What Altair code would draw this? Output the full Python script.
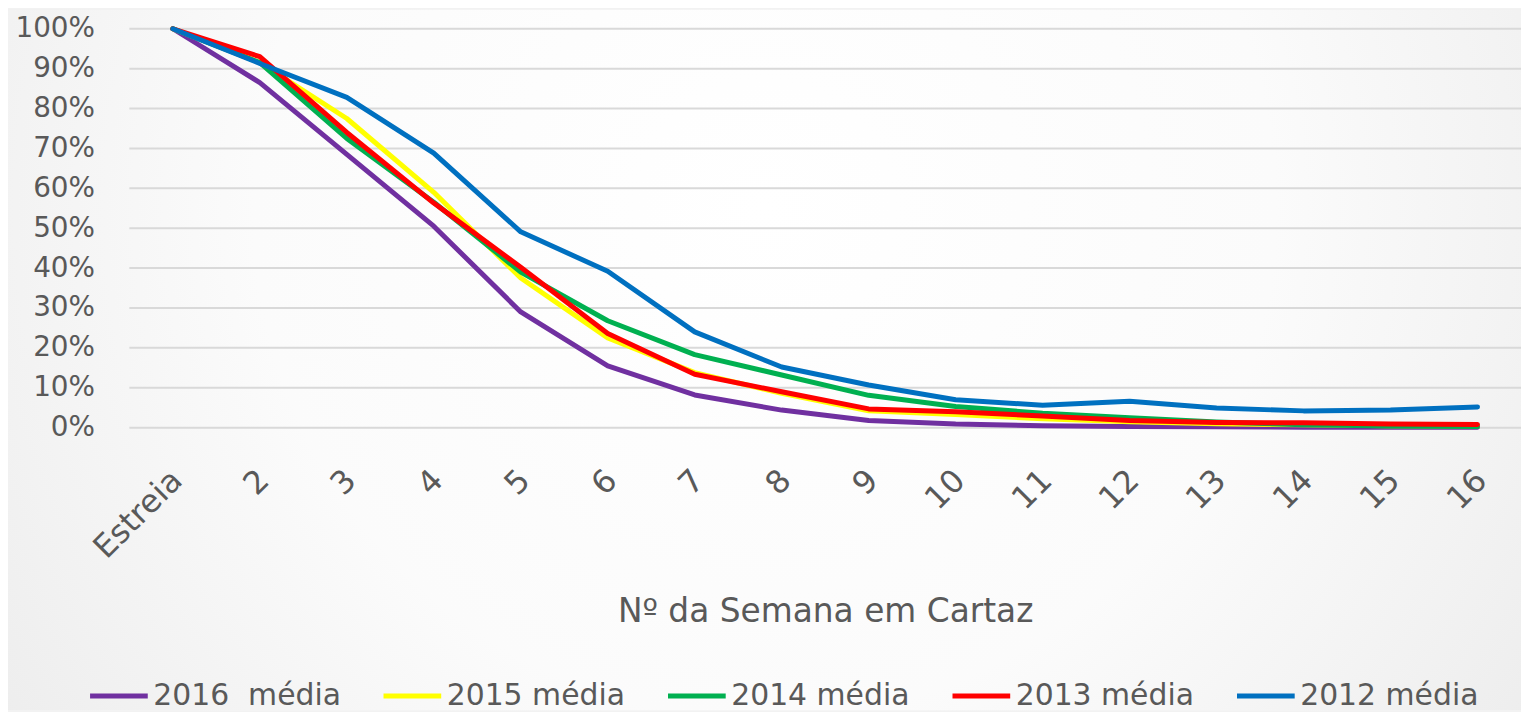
import altair as alt
import pandas as pd

weeks = ["Estreia", "2", "3", "4", "5", "6", "7", "8", "9", "10", "11", "12", "13", "14", "15", "16"]
series = ["2016\u00a0\u00a0média", "2015 média", "2014 média", "2013 média", "2012 média"]
colors = ["#7030A0", "#FFFF00", "#00B050", "#FF0000", "#0070C0"]
v2016 = [100, 86.5, 68.5, 50.5, 29.0, 15.5, 8.2, 4.4, 1.8, 0.9, 0.5, 0.3, 0.2, 0.1, 0.1, 0.1]
v2015 = [100, 91.5, 77.5, 59.0, 37.5, 22.5, 13.8, 8.6, 4.2, 3.3, 2.2, 1.5, 1.0, 0.7, 0.5, 0.4]
v2014 = [100, 91.5, 72.5, 56.5, 39.0, 26.8, 18.3, 13.2, 8.1, 5.3, 3.6, 2.5, 1.4, 0.7, 0.4, 0.3]
v2013 = [100, 93.0, 74.0, 56.3, 40.2, 23.6, 13.4, 9.0, 4.7, 4.0, 2.9, 1.8, 1.3, 1.2, 0.9, 0.8]
v2012 = [100, 91.3, 82.8, 68.8, 49.1, 39.2, 24.0, 15.2, 10.7, 7.0, 5.6, 6.6, 4.9, 4.2, 4.4, 5.2]
y_ticks = [0, 0.1, 0.2, 0.3, 0.4, 0.5, 0.6, 0.7, 0.8, 0.9, 1.0]

rows = []
for i, (name, vals) in enumerate(zip(series, [v2016, v2015, v2014, v2013, v2012])):
    for w, v in zip(weeks, vals):
        rows.append({"serie": name, "semana": w, "valor": v / 100, "ordem": i})
df = pd.DataFrame(rows)

W, H = 1399, 401
FONT = "DejaVu Sans"
GREY = "#595959"

bg = alt.Chart(pd.DataFrame({"a": [0]})).mark_rect(
    fill=alt.Gradient(
        gradient="radial",
        x1=0.5, y1=0.4, r1=0.0,
        x2=0.5, y2=0.4, r2=0.75,
        stops=[
            alt.GradientStop(color="#ffffff", offset=0),
            alt.GradientStop(color="#fbfbfb", offset=0.45),
            alt.GradientStop(color="#e6e6e6", offset=1),
        ],
    )
).encode(x=alt.value(-122), x2=alt.value(W), y=alt.value(-19), y2=alt.value(685))

grid = alt.Chart(pd.DataFrame({"t": y_ticks})).mark_rule(
    color="#d9d9d9", strokeWidth=2
).encode(
    y=alt.Y("t:Q", scale=alt.Scale(domain=[0, 1])),
    x=alt.value(0), x2=alt.value(W),
)

lines = alt.Chart(df).mark_line(strokeWidth=5, strokeCap="round", strokeJoin="round").encode(
    x=alt.X(
        "semana:N",
        sort=weeks,
        scale=alt.Scale(type="point", padding=0.5),
        axis=alt.Axis(
            title="Nº da Semana em Cartaz",
            labelAngle=-45,
            labelFontSize=32,
            labelColor=GREY,
            labelFont=FONT,
            labelPadding=37,
            labelOffset=-7,
            domain=False,
            ticks=False,
            titleFont=FONT,
            titleFontSize=33,
            titleFontWeight="normal",
            titleColor=GREY,
            titleY=195,
            titleBaseline="alphabetic",
            zindex=1,
        ),
    ),
    y=alt.Y(
        "valor:Q",
        scale=alt.Scale(domain=[0, 1]),
        axis=alt.Axis(
            title=None,
            values=y_ticks,
            format=".0%",
            labelFontSize=28,
            labelColor=GREY,
            labelFont=FONT,
            labelPadding=35,
            domain=False,
            ticks=False,
            grid=False,
            zindex=1,
        ),
    ),
    color=alt.Color(
        "serie:N",
        sort=series,
        scale=alt.Scale(domain=series, range=colors),
        legend=alt.Legend(
            title=None,
            orient="none",
            legendX=-42,
            legendY=639,
            direction="horizontal",
            columns=5,
            symbolType="stroke",
            symbolSize=3364,
            symbolStrokeWidth=5,
            labelFont=FONT,
            labelFontSize=30,
            labelColor=GREY,
            labelOffset=3,
            columnPadding=32,
            labelLimit=400,
        ),
    ),
    order=alt.Order("ordem:Q"),
)

chart = alt.layer(bg, grid, lines).properties(
    width=W,
    height=H,
    autosize=alt.AutoSizeParams(type="none"),
    padding={"left": 122, "top": 19, "right": 0, "bottom": 284},
).configure(background="#f2f2f2").configure_view(stroke=None)

chart.save("out.html", embed_options={"renderer": "svg", "actions": False})
